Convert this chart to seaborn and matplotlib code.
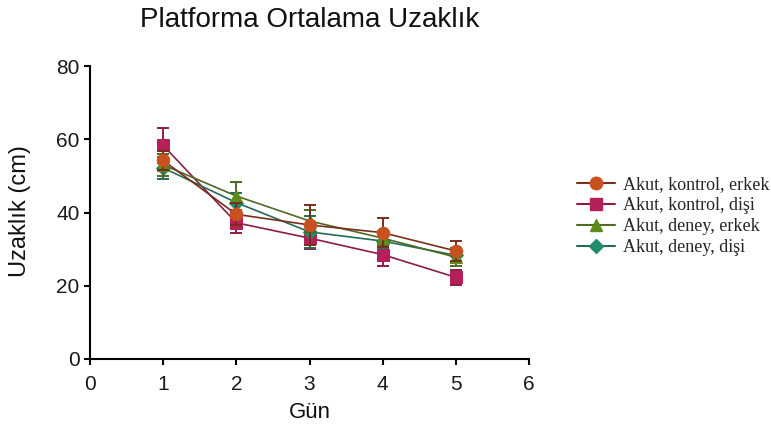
import numpy as np
import pandas as pd
import matplotlib
matplotlib.use("Agg")
import matplotlib.pyplot as plt
from matplotlib.lines import Line2D
import seaborn as sns

# ---- data ----
days = [1, 2, 3, 4, 5]
series_names = ["Akut, kontrol, erkek", "Akut, kontrol, dişi",
                "Akut, deney, erkek", "Akut, deney, dişi"]
kontrol_erkek = [54.2, 39.5, 36.6, 34.5, 29.5]
kontrol_erkek_err = [2.5, 3.0, 5.5, 4.0, 2.8]
kontrol_disi = [58.3, 37.2, 33.0, 28.5, 22.3]
kontrol_disi_err = [4.8, 2.8, 3.0, 3.1, 2.0]
deney_erkek = [53.0, 44.5, 37.7, 33.0, 27.8]
deney_erkek_err = [3.0, 3.7, 3.0, 2.0, 2.5]
deney_disi = [52.2, 42.7, 34.7, 32.2, 28.3]
deney_disi_err = [3.0, 2.5, 4.4, 2.0, 2.0]

title = "Platforma Ortalama Uzaklık"
xlabel = "Gün"
ylabel = "Uzaklık (cm)"
xticks = [0, 1, 2, 3, 4, 5, 6]
yticks = [0, 20, 40, 60, 80]

means = [kontrol_erkek, kontrol_disi, deney_erkek, deney_disi]
errs = [kontrol_erkek_err, kontrol_disi_err, deney_erkek_err, deney_disi_err]

df = pd.DataFrame({
    "Gün": days * 4,
    "Uzaklık": sum(means, []),
    "err": sum(errs, []),
    "grup": [n for n in series_names for _ in days],
})

face_colors = {series_names[0]: "#c8521f", series_names[1]: "#b5205a",
               series_names[2]: "#5f8c17", series_names[3]: "#1f8c6c"}
line_colors = {series_names[0]: "#7a2e1c", series_names[1]: "#8c1c45",
               series_names[2]: "#4d6b22", series_names[3]: "#246b58"}
markers = {series_names[0]: "o", series_names[1]: "s",
           series_names[2]: "^", series_names[3]: "D"}
msizes = {series_names[0]: 9, series_names[1]: 9,
          series_names[2]: 9, series_names[3]: 7}

sns.set_theme(style="ticks")
plt.rcParams["font.family"] = ["Liberation Sans", "DejaVu Sans"]

fig = plt.figure(figsize=(7.71, 4.25), dpi=100)
ax = fig.add_axes([90 / 771, 1 - 359 / 425, 439 / 771, 293 / 425])

draw_order = [series_names[1], series_names[3], series_names[2], series_names[0]]
for i, name in enumerate(draw_order):
    sub = df[df["grup"] == name]
    ax.errorbar(sub["Gün"], sub["Uzaklık"], yerr=sub["err"], fmt="none",
                ecolor=line_colors[name], elinewidth=1.4, capsize=4.5,
                capthick=1.4, zorder=2 + i)
    sns.lineplot(data=sub, x="Gün", y="Uzaklık", ax=ax, color=line_colors[name],
                 linewidth=1.2, marker=markers[name], markersize=msizes[name],
                 markerfacecolor=face_colors[name],
                 markeredgecolor=face_colors[name], legend=False,
                 zorder=3 + i, errorbar=None)

ax.set_xlim(0, 6)
ax.set_ylim(0, 80)
ax.set_xticks(xticks)
ax.set_yticks(yticks)
ax.set_xticklabels([str(t) for t in xticks])
ax.set_yticklabels([str(t) for t in yticks])
ax.set_xlabel("")
ax.set_ylabel("")
sns.despine(ax=ax)
for s in ["left", "bottom"]:
    ax.spines[s].set_linewidth(1.5)
    ax.spines[s].set_color("black")
ax.tick_params(axis="both", length=4.5, width=1.5, color="black",
               labelsize=15, labelcolor="#1a1a1a")
ax.tick_params(axis="x", pad=7)
ax.tick_params(axis="y", pad=3)

fig.text(310 / 771, 1 - 20 / 425, title, ha="center", va="center",
         fontsize=20, color="#111111")
fig.text(310 / 771, 1 - 412 / 425, xlabel, ha="center", va="center",
         fontsize=16, color="#111111")
fig.text(20 / 771, 1 - 211 / 425, ylabel, ha="center", va="center",
         rotation=90, fontsize=17, color="#111111")

handles = [Line2D([0], [0], color=line_colors[n], lw=1.5, marker=markers[n],
                  markersize=msizes[n], markerfacecolor=face_colors[n],
                  markeredgecolor=face_colors[n]) for n in series_names]
leg = fig.legend(handles, series_names, loc="upper left",
                 bbox_to_anchor=(577 / 771, 1 - 176 / 425), frameon=False,
                 prop={"family": "Liberation Serif", "size": 13},
                 handlelength=2.1, handletextpad=0.45, labelspacing=0.23,
                 borderpad=0, borderaxespad=0)

fig.savefig("out.png", dpi=100, facecolor="white")
